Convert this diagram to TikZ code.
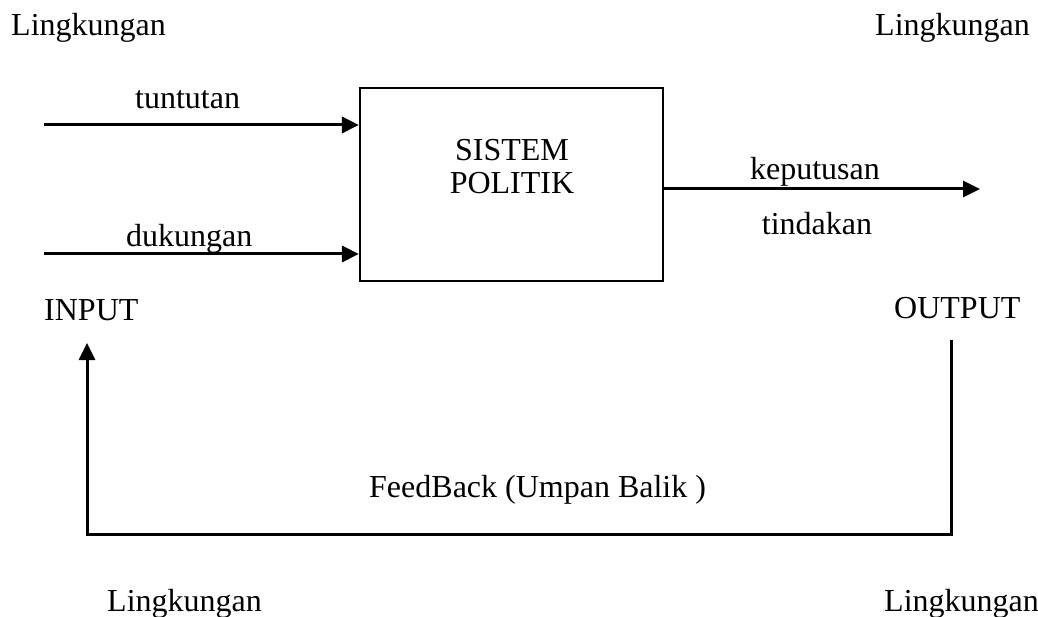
\documentclass[tikz,border=0pt]{standalone}
\usepackage{fontspec}
\setmainfont{Liberation Serif}
\usetikzlibrary{arrows.meta}
\begin{document}
\begin{tikzpicture}[x=1pt,y=-1pt,
  lbl/.style={inner sep=0pt,anchor=base west,font=\fontsize{32}{36}\selectfont},
  clbl/.style={inner sep=0pt,anchor=base,font=\fontsize{32}{36}\selectfont},
  ln/.style={line width=3pt},
  arr/.style={ln,-{Triangle[length=17pt,width=16pt]}}]
\useasboundingbox (0,0) rectangle (1038,617);
% box
\node[draw,line width=2.2pt,minimum width=303pt,minimum height=193pt,inner sep=0pt] (sys) at (511.5,184.5) {};
\node[clbl] (t1) at (512,161) {SISTEM};
\node[clbl] (t2) at (512,194) {POLITIK};
% corner texts
\node[lbl] (l1) at (11,36) {Lingkungan};
\node[lbl] (l2) at (875,36) {Lingkungan};
\node[lbl] (l3) at (107,611) {Lingkungan};
\node[lbl] (l4) at (884,611) {Lingkungan};
% inputs
\coordinate (in1) at (44,125);
\coordinate (in2) at (44,254);
\draw[arr] (in1) -- (in1 -| sys.west);
\draw[arr] (in2) -- (in2 -| sys.west);
\node[lbl] (tu) at (135,109) {tuntutan};
\node[lbl] (du) at (126,247) {dukungan};
% output
\coordinate (out) at (980,189);
\draw[arr] (out -| sys.east) -- (out);
\node[clbl] (ke) at (815,180) {keputusan};
\node[clbl] (ti) at (817,235) {tindakan};
\node[lbl] (ip) at (44,320) {INPUT};
\node[lbl] (op) at (894,319) {OUTPUT};
% feedback
\coordinate (fbR) at (951,340);
\coordinate (fbL) at (87,343);
\coordinate (fbB) at (951,534);
\draw[arr] (fbR) -- (fbB) -| (fbL);
\node[lbl] (fb) at (369,497) {FeedBack (Umpan Balik )};
\end{tikzpicture}
\end{document}
